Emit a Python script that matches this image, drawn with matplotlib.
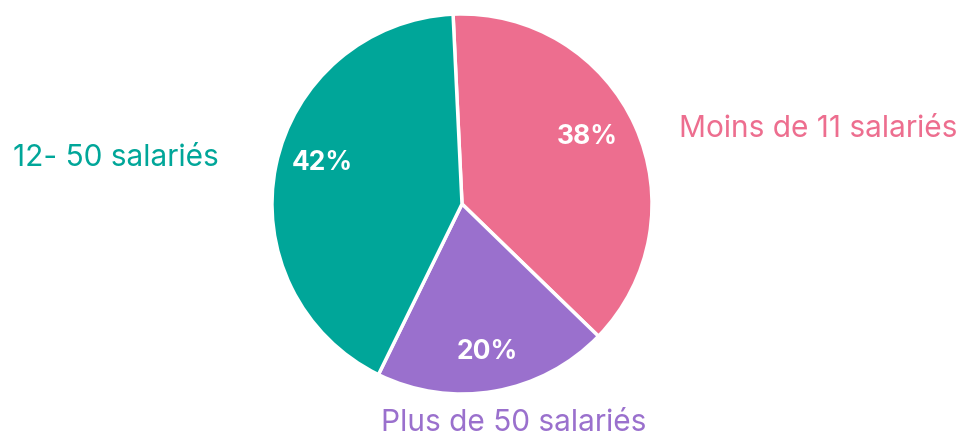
import matplotlib
matplotlib.use("Agg")
import matplotlib.pyplot as plt

# slice order: clockwise from the top
labels = ["Moins de 11 salariés", "Plus de 50 salariés", "12- 50 salariés"]
shares = [38, 20, 42]
colors = ["#ED6E8F", "#9A70CD", "#00A699"]

W, H = 969, 437
fig = plt.figure(figsize=(W / 100, H / 100), dpi=100)
fig.patch.set_facecolor("white")

# pie centre (462, 204) px, radius 190 px
cx, cy, r = 462, 204, 190
ax = fig.add_axes([(cx - r) / W, (H - cy - r) / H, 2 * r / W, 2 * r / H])

wedges, _, autotexts = ax.pie(
    shares,
    colors=colors,
    startangle=92.7,
    counterclock=False,
    autopct="%d%%",
    pctdistance=0.77,
    wedgeprops=dict(edgecolor="white", linewidth=2.5),
    textprops=dict(color="white", fontsize=19, fontweight="bold", family="Inter"),
)
ax.set_xlim(-1, 1)
ax.set_ylim(-1, 1)
ax.axis("off")

# nudge the percentages to where the original puts them (pixel centres)
pct_pos = [(587, 137), (487, 352), (322, 163)]
for t, (px, py) in zip(autotexts, pct_pos):
    t.set_position(((px - cx) / r, (cy - py) / r))
    t.set_va("center")

# outer labels: centre x and baseline y in pixels
label_pos = [(818, 137), (514, 431), (116, 166)]
for text, col, (px, py) in zip(labels, colors, label_pos):
    fig.text(px / W, 1 - py / H, text, color=col, fontsize=21.5,
             family="Inter", ha="center", va="baseline")

fig.savefig("out.png", dpi=100)
